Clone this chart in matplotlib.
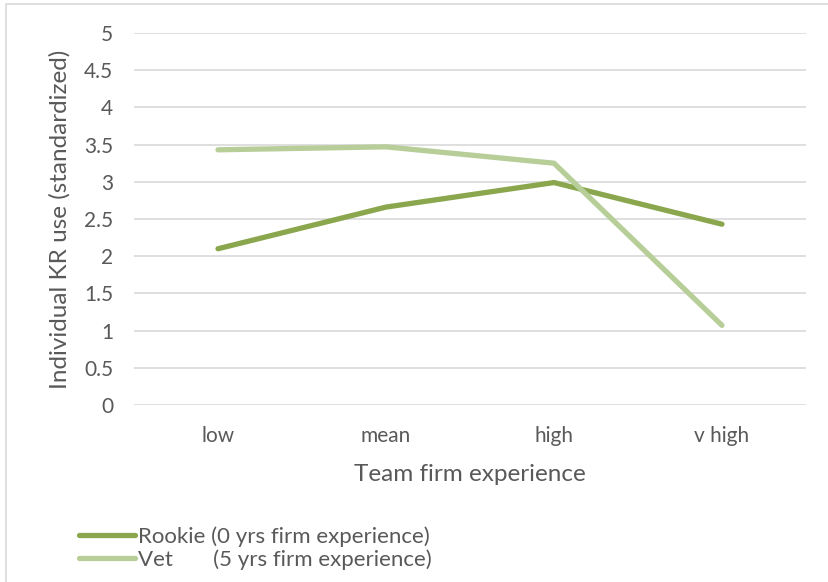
import matplotlib
matplotlib.use("Agg")
import matplotlib.pyplot as plt
import matplotlib.patches as mpatches

# ── Data ─────────────────────────────────────────────────────────────────────

categories = ["low", "mean", "high", "v high"]
rookie = [2.10, 2.66, 2.99, 2.43]
vet    = [3.43, 3.47, 3.25, 1.07]
yticks = [0, 0.5, 1, 1.5, 2, 2.5, 3, 3.5, 4, 4.5, 5]
ytick_labels = ["0", "0.5", "1", "1.5", "2", "2.5", "3", "3.5", "4", "4.5", "5"]

ROOKIE_C = "#8aa74e"
VET_C    = "#b7ce98"
TXT      = "#595959"

plt.rcParams["font.family"] = ["Lato", "DejaVu Sans"]

# ── Plot ──────────────────────────────────────────────────────────────────────

fig = plt.figure(figsize=(8.29, 5.82), dpi=100)
ax = fig.add_axes([134 / 829, 1 - 405 / 582, 672 / 829, 372 / 582])

# chart frame (extends past the right/bottom edge of the crop)
fig.patches.append(mpatches.Rectangle((6 / 829, -0.1), 1.2, 1 - 4 / 582 + 0.1,
                                      transform=fig.transFigure, fill=False,
                                      edgecolor="#d9d9d9", lw=1.2))

x = range(len(categories))
ax.plot(x, rookie, color=ROOKIE_C, lw=3.8, solid_capstyle="round",
        solid_joinstyle="round", label="Rookie (0 yrs firm experience)")
ax.plot(x, vet, color=VET_C, lw=3.8, solid_capstyle="round",
        solid_joinstyle="round", label="Vet       (5 yrs firm experience)")

ax.set_xlim(-0.5, 3.5)
ax.set_ylim(0, 5)
ax.set_yticks(yticks)
ax.set_yticklabels(ytick_labels)
ax.set_xticks(list(x))
ax.set_xticklabels(categories)
ax.yaxis.grid(True, color="#d9d9d9", lw=1.2)
ax.set_axisbelow(True)
for s in ax.spines.values():
    s.set_visible(False)
ax.tick_params(length=0, labelsize=15, colors=TXT)
ax.tick_params(axis="x", pad=15)
ax.tick_params(axis="y", pad=15)

ax.set_xlabel("Team firm experience", fontsize=17.5, color=TXT, labelpad=13)
ax.set_ylabel("Individual KR use (standardized)", fontsize=17.5, color=TXT, labelpad=10)

fig.legend(loc="upper left", bbox_to_anchor=(59 / 829, 1 - 506 / 582),
           frameon=False, fontsize=16, handlelength=2.5, handletextpad=0.15,
           labelspacing=0.12, labelcolor=TXT)

fig.savefig("out.png", dpi=100)
